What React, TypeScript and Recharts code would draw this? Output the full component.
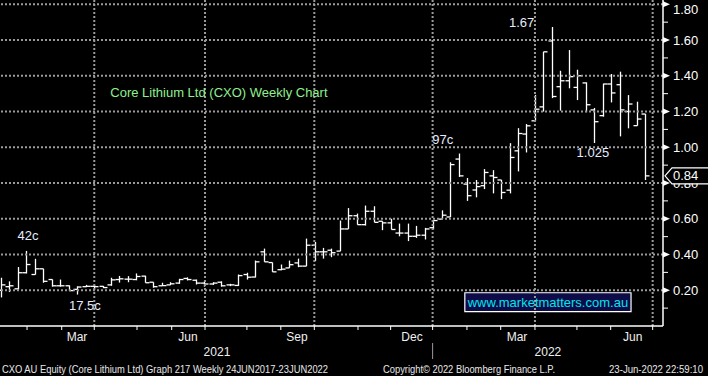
import React from 'react';
import { ComposedChart, Bar, XAxis, YAxis, ReferenceLine, ReferenceDot, ReferenceArea } from 'recharts';

// Weekly OHLC, Core Lithium (CXO), mid-Jan 2021 .. 23 Jun 2022
const opens = [0.20,0.22,0.208,0.298,0.288,0.32,0.26,0.225,0.225,0.205,0.22,0.222,0.222,
  0.23,0.26,0.262,0.26,0.279,0.245,0.225,0.23,0.24,0.266,0.256,0.24,0.235,0.245,
  0.23,0.227,0.288,0.274,0.415,0.355,0.315,0.325,0.353,0.335,0.452,0.415,0.424,0.419,
  0.543,0.617,0.567,0.642,0.586,0.577,0.52,0.52,0.502,0.508,0.55,0.598,0.61,
  0.934,0.794,0.761,0.785,0.84,0.817,0.76,0.98,1.074,1.148,1.226,1.595,
  1.339,1.372,1.335,1.36,1.209,1.177,1.354,1.35,1.2,1.121,1.186];
const highs = [0.27,0.25,0.33,0.42,0.376,0.32,0.26,0.26,0.227,0.222,0.23,0.23,0.224,
  0.27,0.28,0.279,0.294,0.281,0.245,0.242,0.245,0.264,0.272,0.26,0.25,0.245,0.25,
  0.236,0.288,0.298,0.366,0.433,0.355,0.344,0.366,0.377,0.489,0.47,0.437,0.433,0.59,
  0.66,0.629,0.674,0.67,0.586,0.6,0.573,0.573,0.56,0.549,0.592,0.647,0.916,
  0.965,0.828,0.817,0.878,0.872,0.817,1.023,1.107,1.13,1.293,1.534,1.673,
  1.428,1.544,1.434,1.363,1.22,1.356,1.41,1.423,1.292,1.255,1.186];
const lows = [0.16,0.19,0.204,0.294,0.288,0.242,0.22,0.22,0.195,0.176,0.218,0.205,0.212,
  0.225,0.243,0.245,0.256,0.242,0.214,0.224,0.229,0.236,0.255,0.232,0.22,0.23,0.22,
  0.223,0.224,0.26,0.272,0.359,0.303,0.312,0.325,0.329,0.335,0.363,0.377,0.385,0.419,
  0.543,0.567,0.562,0.58,0.536,0.54,0.502,0.475,0.493,0.484,0.54,0.598,0.61,
  0.834,0.70,0.72,0.766,0.742,0.71,0.742,0.865,0.971,1.148,1.20,1.275,
  1.205,1.33,1.264,1.196,1.024,1.171,1.251,1.061,1.106,1.121,0.817];
const closes = [0.23,0.225,0.298,0.344,0.32,0.25,0.225,0.225,0.198,0.218,0.222,0.22,0.215,
  0.258,0.264,0.262,0.277,0.242,0.22,0.226,0.236,0.26,0.26,0.24,0.235,0.24,0.225,
  0.23,0.282,0.273,0.359,0.359,0.303,0.318,0.343,0.335,0.452,0.415,0.415,0.41,0.543,
  0.617,0.567,0.642,0.58,0.577,0.54,0.52,0.502,0.508,0.543,0.59,0.62,0.903,
  0.84,0.729,0.78,0.859,0.831,0.747,0.943,1.077,1.12,1.213,1.534,1.284,
  1.372,1.395,1.40,1.238,1.143,1.354,1.304,1.209,1.242,1.158,0.84];

// x axis (in week units)
const monthTicks = [3.07, 7.16, 11.0, 16.04, 20.13, 24.06, 29.0, 33.0, 36.95, 42.1, 45.95, 50.9, 54.95, 58.93, 62.97, 67.92, 71.9, 76.85];
const quarterLines = [11.0, 24.06, 36.95, 50.9, 62.97, 76.85];
const monthLabels = ['Mar', 'Jun', 'Sep', 'Dec', 'Mar', 'Jun'];
const monthLabelPos = [8.96, 22.05, 34.9, 48.47, 60.85, 74.5];
const yearLabels = ['2021', '2022'];
const yearLabelPos = [25.47, 64.5];
const yearBreak = 50.9;

// y axis
const priceMajors = [0.2, 0.4, 0.6, 0.8, 1.0, 1.2, 1.4, 1.6, 1.8];
const priceMinors = [0.1, 0.3, 0.5, 0.7, 0.9, 1.1, 1.3, 1.5, 1.7];
const lastPrice = 0.84;

// annotations
const noteTexts = ['42c', '17.5c', '97c', '1.67', '1.025'];
const noteX = [3.18, 9.9, 52.1, 61.4, 69.8];
const noteY = [0.506, 0.115, 1.046, 1.70, 0.971];

const FONT = '"Liberation Sans", Arial, sans-serif';
const NAVY = '#0d0b48';
const GRID = '#9a9a9a';

const data = opens.map((o, i) => ({
  k: i, o, h: highs[i], l: lows[i], c: closes[i], range: [lows[i], highs[i]],
}));

const OHLCShape = (props: any) => {
  const { x, y, width, height, payload } = props;
  if (x == null || y == null) return null;
  const cx = Math.round(x + width / 2) + 0.5;
  const top = Math.min(y, y + height);
  const bot = Math.max(y, y + height);
  const span = payload.h - payload.l;
  const py = (v: number) => (span > 0 ? top + ((payload.h - v) / span) * (bot - top) : top);
  return (
    <g stroke="#ffffff" strokeWidth={1.3}>
      <line x1={cx} x2={cx} y1={top} y2={bot} />
      <line x1={cx - 4} x2={cx} y1={py(payload.o)} y2={py(payload.o)} />
      <line x1={cx} x2={cx + 4} y1={py(payload.c)} y2={py(payload.c)} />
    </g>
  );
};

const XTick = (props: any) => {
  const { x, y, payload } = props;
  const v = payload.value;
  const mi = monthLabelPos.indexOf(v);
  if (mi >= 0) {
    return (
      <text x={x} y={y + 11} textAnchor="middle" dominantBaseline="central" fill="#f0f0f0" fontSize={12} fontFamily={FONT}>
        {monthLabels[mi]}
      </text>
    );
  }
  const yi = yearLabelPos.indexOf(v);
  if (yi >= 0) {
    return (
      <text x={x} y={y + 26} textAnchor="middle" dominantBaseline="central" fill="#f0f0f0" fontSize={12} fontFamily={FONT}>
        {yearLabels[yi]}
      </text>
    );
  }
  return (
    <g>
      <line x1={x} x2={x} y1={y} y2={y + 4} stroke="#ffffff" strokeWidth={1} />
      {v === yearBreak ? <line x1={x} x2={x} y1={y + 17} y2={y + 33} stroke="#9a9a9a" strokeWidth={1} /> : null}
    </g>
  );
};

const YTick = (props: any) => {
  const { x, y, payload } = props;
  const v = payload.value;
  if (v === lastPrice) {
    return (
      <g>
        <polygon
          points={`${x + 2},${y} ${x + 9},${y - 8} ${x + 46},${y - 8} ${x + 46},${y + 8} ${x + 9},${y + 8}`}
          fill="#000000" stroke="#ffffff" strokeWidth={1.2}
        />
        <text x={x + 10} y={y} dominantBaseline="central" fill="#ffffff" fontSize={13} fontFamily={FONT}>
          {v.toFixed(2)}
        </text>
      </g>
    );
  }
  if (priceMajors.includes(v)) {
    return (
      <g>
        <polygon points={`${x},${y - 3} ${x + 7},${y} ${x},${y + 3}`} fill="#ffffff" />
        <text x={x + 10} y={Math.max(y, 9)} dominantBaseline="central" fill="#ffffff" fontSize={13} fontFamily={FONT}>
          {v.toFixed(2)}
        </text>
      </g>
    );
  }
  return <line x1={x} x2={x + 5} y1={y} y2={y} stroke="#ffffff" strokeWidth={1} />;
};

const NoteShape = (text: string, color: string, size: number) => (p: any) => (
  <text x={p.cx} y={p.cy} textAnchor="middle" dominantBaseline="central" fill={color} fontSize={size} fontFamily={FONT}>
    {text}
  </text>
);

export default function App() {
  return (
    <div style={{ position: 'absolute', left: 0, top: 0, width: 708, height: 376, background: '#000000' }}>
      <ComposedChart width={708} height={376} data={data} margin={{ top: 0, right: 0, bottom: 0, left: 0 }}>
        <XAxis
          dataKey="k"
          type="number"
          domain={[-0.118, 78.07]}
          allowDataOverflow
          ticks={[...monthTicks, ...monthLabelPos, ...yearLabelPos]}
          interval={0}
          height={50}
          tickSize={0}
          tickMargin={0}
          tickLine={false}
          tick={<XTick />}
          axisLine={{ stroke: '#ffffff', strokeWidth: 1.5 }}
        />
        <YAxis
          orientation="right"
          type="number"
          domain={[0, 1.824]}
          allowDataOverflow
          ticks={[...priceMinors, ...priceMajors, lastPrice]}
          interval={0}
          width={45}
          tickSize={0}
          tickMargin={0}
          tickLine={false}
          tick={<YTick />}
          axisLine={{ stroke: '#ffffff', strokeWidth: 1.5 }}
        />
        <ReferenceArea fill={NAVY} fillOpacity={1} stroke="none" ifOverflow="hidden" />
        {priceMajors.map((v) => (
          <ReferenceLine key={'h' + v} y={v} stroke={GRID} strokeWidth={2} strokeDasharray="2 2" />
        ))}
        {quarterLines.map((v) => (
          <ReferenceLine key={'v' + v} x={v} stroke={GRID} strokeWidth={2} strokeDasharray="2 2" />
        ))}
        <ReferenceArea
          x1={54.7} x2={74.3} y1={0.08} y2={0.186}
          fill={NAVY} fillOpacity={1} stroke="#ffffff" strokeWidth={1.2}
          label={{ value: 'www.marketmatters.com.au', position: 'center', fill: '#00e5ee', fontSize: 13, fontFamily: FONT }}
        />
        <ReferenceDot x={25.7} y={1.305} r={1} shape={NoteShape('Core Lithium Ltd (CXO) Weekly Chart', '#8ef08e', 13)} />
        {noteTexts.map((t, i) => (
          <ReferenceDot key={t} x={noteX[i]} y={noteY[i]} r={1} shape={NoteShape(t, '#e6ecff', 13)} />
        ))}
        <Bar dataKey="range" barSize={8} shape={OHLCShape} isAnimationActive={false} />
      </ComposedChart>
      <svg width={708} height={376} style={{ position: 'absolute', left: 0, top: 0, pointerEvents: 'none' }}>
        <text x={2} y={369} dominantBaseline="central" fill="#e8e8e8" fontSize={10.5} fontFamily={FONT} textLength={326} lengthAdjust="spacingAndGlyphs">
          CXO AU Equity (Core Lithium Ltd) Graph 217  Weekly 24JUN2017-23JUN2022
        </text>
        <text x={383} y={369} dominantBaseline="central" fill="#e8e8e8" fontSize={10.5} fontFamily={FONT} textLength={172} lengthAdjust="spacingAndGlyphs">
          Copyright© 2022 Bloomberg Finance L.P.
        </text>
        <text x={609} y={369} dominantBaseline="central" fill="#e8e8e8" fontSize={10.5} fontFamily={FONT} textLength={94} lengthAdjust="spacingAndGlyphs">
          23-Jun-2022 22:59:10
        </text>
      </svg>
    </div>
  );
}
